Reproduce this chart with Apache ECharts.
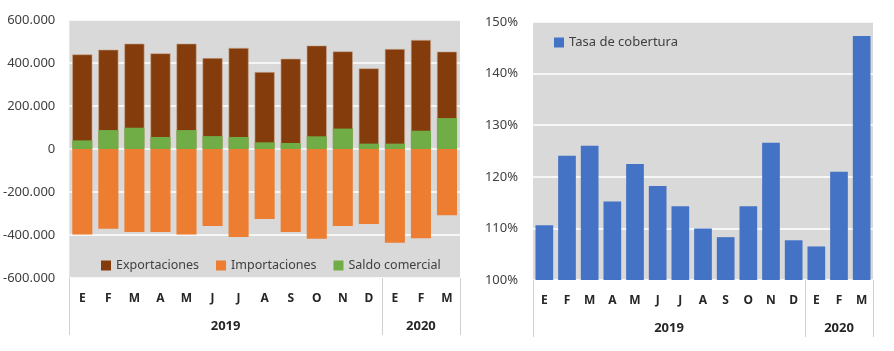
<!DOCTYPE html>
<html>
<head>
<meta charset="utf-8">
<script src="https://cdn.jsdelivr.net/npm/echarts@6/dist/echarts.min.js"></script>
<style>
  html, body { margin: 0; padding: 0; background: #fff; }
  #chart { width: 894px; height: 351px; }
</style>
</head>
<body>
<div id="chart"></div>
<script>
// datos (miles de euros), ene-2019 a mar-2020
const months = ['E', 'F', 'M', 'A', 'M', 'J', 'J', 'A', 'S', 'O', 'N', 'D', 'E', 'F', 'M']
const years = ['2019', '2020']
const yearSpans = [12, 3]
const exportaciones = [440000, 462000, 490000, 445000, 490000, 423000, 470000, 358000, 420000, 481000, 454000, 375000, 465000, 507000, 453000]
const importaciones = [-398000, -371000, -386000, -386000, -398000, -358000, -409000, -325000, -386000, -418000, -358000, -349000, -436000, -415000, -308000]
const saldo = [40000, 88000, 99000, 56000, 88000, 60000, 56000, 31000, 28000, 59000, 95000, 25000, 25000, 85000, 144000]
const cobertura = [110.6, 124.1, 126.0, 115.2, 122.5, 118.2, 114.3, 110.0, 108.3, 114.3, 126.6, 107.7, 106.5, 121.0, 147.3]
const valueTicks = [-600000, -400000, -200000, 0, 200000, 400000, 600000]
const pctTicks = [100, 110, 120, 130, 140, 150]

const font = 'Noto Sans'
const txt = '#404040'

// limites y centros de cada año sobre el eje
const bounds = [0]
yearSpans.forEach(s => bounds.push(bounds[bounds.length - 1] + s))
const centers = yearSpans.map((s, i) => bounds[i] + s / 2)

const fmtMiles = v => v === 0 ? '0' : (v < 0 ? '-' : '') + Math.abs(v / 1000) + '.000'

function monthAxis(grid) {
    return {
        type: 'category', gridIndex: grid, data: months,
        axisLine: { show: false }, axisTick: { show: false },
        axisLabel: { fontFamily: font, fontSize: 12, fontWeight: 'bold', color: '#262626', margin: 15 }
    }
}
function yearAxis(grid) {
    return {
        type: 'value', gridIndex: grid, min: 0, max: bounds[bounds.length - 1],
        position: 'bottom',
        axisLine: { show: false },
        splitLine: { show: false },
        axisTick: { show: true, customValues: bounds, length: 57, lineStyle: { color: '#d0d0d0', width: 1 } },
        axisLabel: {
            customValues: centers, margin: 42,
            fontFamily: font, fontSize: 13, fontWeight: 'bold', color: '#262626',
            formatter: v => years[centers.indexOf(v)]
        }
    }
}

const chart = echarts.init(document.getElementById('chart'))
const option = {
    animation: false,
    grid: [
        { left: 68, right: 434, top: 20, bottom: 73, show: true, backgroundColor: '#d9d9d9', borderWidth: 0 },
        { left: 533, right: 21, top: 22, bottom: 71, show: true, backgroundColor: '#d9d9d9', borderWidth: 0 }
    ],
    legend: [
        {
            data: ['Exportaciones', 'Importaciones', 'Saldo comercial'],
            left: 96, top: 254, itemWidth: 10, itemHeight: 10, itemGap: 17,
            icon: 'rect', itemStyle: { borderWidth: 0 },
            textStyle: { fontFamily: font, fontSize: 12.5, color: txt }
        },
        {
            data: ['Tasa de cobertura'],
            left: 549, top: 31, itemWidth: 10, itemHeight: 10,
            icon: 'rect',
            textStyle: { fontFamily: font, fontSize: 13, color: txt }
        }
    ],
    xAxis: [monthAxis(0), yearAxis(0), monthAxis(1), yearAxis(1)],
    yAxis: [
        {
            type: 'value', gridIndex: 0, min: valueTicks[0], max: valueTicks[valueTicks.length - 1], interval: 200000,
            axisLine: { show: false }, axisTick: { show: false },
            splitLine: { lineStyle: { color: '#ffffff', width: 1.5 } },
            axisLabel: { fontFamily: font, fontSize: 13, color: txt, margin: 14, formatter: fmtMiles }
        },
        {
            type: 'value', gridIndex: 1, min: pctTicks[0], max: pctTicks[pctTicks.length - 1], interval: 10,
            axisLine: { show: false }, axisTick: { show: false },
            splitLine: { lineStyle: { color: '#ffffff', width: 1.5 } },
            axisLabel: { fontFamily: font, fontSize: 13, color: txt, margin: 15, formatter: '{value}%' }
        }
    ],
    series: [
        {
            name: 'Exportaciones', type: 'bar', xAxisIndex: 0, yAxisIndex: 0,
            data: exportaciones, barWidth: '77%', barGap: '-100%',
            itemStyle: { color: '#843c0c', borderColor: '#c9a890', borderWidth: 0.6 }
        },
        {
            name: 'Importaciones', type: 'bar', xAxisIndex: 0, yAxisIndex: 0,
            data: importaciones, barWidth: '77%', barGap: '-100%',
            itemStyle: { color: '#ed7d31' }
        },
        {
            name: 'Saldo comercial', type: 'bar', xAxisIndex: 0, yAxisIndex: 0,
            data: saldo, barWidth: '77%', barGap: '-100%',
            itemStyle: { color: '#70ad47' }
        },
        {
            name: 'Tasa de cobertura', type: 'bar', xAxisIndex: 2, yAxisIndex: 1,
            data: cobertura, barWidth: '78%',
            itemStyle: { color: '#4472c4' }
        }
    ]
}
chart.setOption(option)
</script>
</body>
</html>
